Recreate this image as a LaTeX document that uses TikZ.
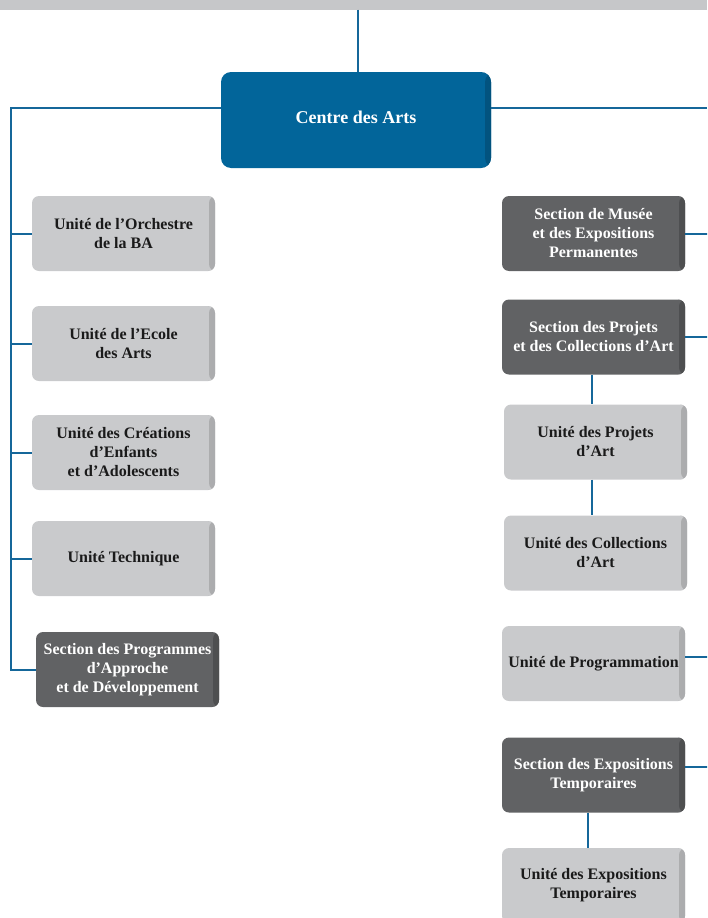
\documentclass[tikz,border=0pt]{standalone}
\usepackage{fontspec}
\setmainfont{Liberation Serif}
\definecolor{mainblue}{HTML}{02659A}
\definecolor{linkblue}{HTML}{15679A}
\definecolor{lightbox}{HTML}{C9CACC}
\definecolor{darkbox}{HTML}{616264}
\definecolor{barcol}{HTML}{C6C7C9}
\definecolor{inktext}{HTML}{1A1A1A}
\tikzset{
  conn/.style={draw=linkblue, line width=2pt},
  unitbox/.style={rounded corners=7pt, minimum width=183pt, minimum height=75pt,
    inner sep=0pt, align=center, fill=lightbox, text=inktext,
    font=\fontsize{16}{19}\selectfont\bfseries,
    path picture={\shade[left color=lightbox, right color=lightbox!85!black]
      ([xshift=-6pt]path picture bounding box.north east) rectangle (path picture bounding box.south east);}},
  sectbox/.style={unitbox, fill=darkbox, text=white,
    path picture={\shade[left color=darkbox, right color=darkbox!80!black]
      ([xshift=-6pt]path picture bounding box.north east) rectangle (path picture bounding box.south east);}},
  mainbox/.style={rounded corners=10pt, minimum width=270pt, minimum height=96pt,
    inner sep=0pt, align=center, fill=mainblue, text=white,
    font=\fontsize{18}{21}\selectfont\bfseries,
    path picture={\shade[left color=mainblue, right color=mainblue!82!black]
      ([xshift=-6pt]path picture bounding box.north east) rectangle (path picture bounding box.south east);}},
}
\begin{document}
\begin{tikzpicture}[x=1pt,y=-1pt]
\useasboundingbox (0,0) rectangle (707,918);
\clip (0,0) rectangle (707,918);
\fill[barcol] (0,0) rectangle (707,9.5);
\coordinate (top) at (358,9.5);
\coordinate (L) at (11,108);
\coordinate (R) at (707,108);

\node[mainbox] (main) at (356,120) {\raisebox{6pt}{Centre des Arts}};

\node[unitbox] (l1) at (123.5,233.5) {Unité de l’Orchestre\\de la BA};
\node[unitbox] (l2) at (123.5,343.5) {Unité de l’Ecole\\des Arts};
\node[unitbox] (l3) at (123.5,452.5) {Unité des Créations\\d’Enfants\\et d’Adolescents};
\node[unitbox] (l4) at (123.5,558.5) {Unité Technique};
\node[sectbox] (l5) at (127.5,669.5) {Section des Programmes\\d’Approche\\et de Développement};

\node[sectbox] (r1) at (593.5,233.5) {Section de Musée\\et des Expositions\\Permanentes};
\node[sectbox] (r2) at (593.5,337) {Section des Projets\\et des Collections d’Art};
\node[unitbox] (r3) at (595.5,442) {Unité des Projets\\d’Art};
\node[unitbox] (r4) at (595.5,553) {Unité des Collections\\d’Art};
\node[unitbox] (r5) at (593.5,663.5) {Unité de Programmation};
\node[sectbox] (r6) at (593.5,775) {Section des Expositions\\Temporaires};
\node[unitbox] (r7) at (593.5,885.5) {Unité des Expositions\\Temporaires};

\draw[conn] (top) -- (top |- main.north);
\draw[conn] ([yshift=12pt]main.west) -- (L) -- (L |- l5.west) -- (l5.west);
\foreach \n in {l1,l2,l3,l4} \draw[conn] (L |- \n.west) -- (\n.west);
\draw[conn] ([yshift=12pt]main.east) -- (R);
\draw[conn] (r1.east) -- +(30,0);
\draw[conn] (r2.east) -- +(30,0);
\draw[conn] ([yshift=6.5pt]r5.east) -- +(30,0);
\draw[conn] ([yshift=8pt]r6.east) -- +(30,0);
\draw[conn] ([xshift=-1.5pt]r2.south) -- ([xshift=-1.5pt]r2.south |- r3.north);
\draw[conn] ([xshift=-3.5pt]r3.south) -- ([xshift=-3.5pt]r3.south |- r4.north);
\draw[conn] ([xshift=-5.5pt]r6.south) -- ([xshift=-5.5pt]r6.south |- r7.north);
\end{tikzpicture}
\end{document}
